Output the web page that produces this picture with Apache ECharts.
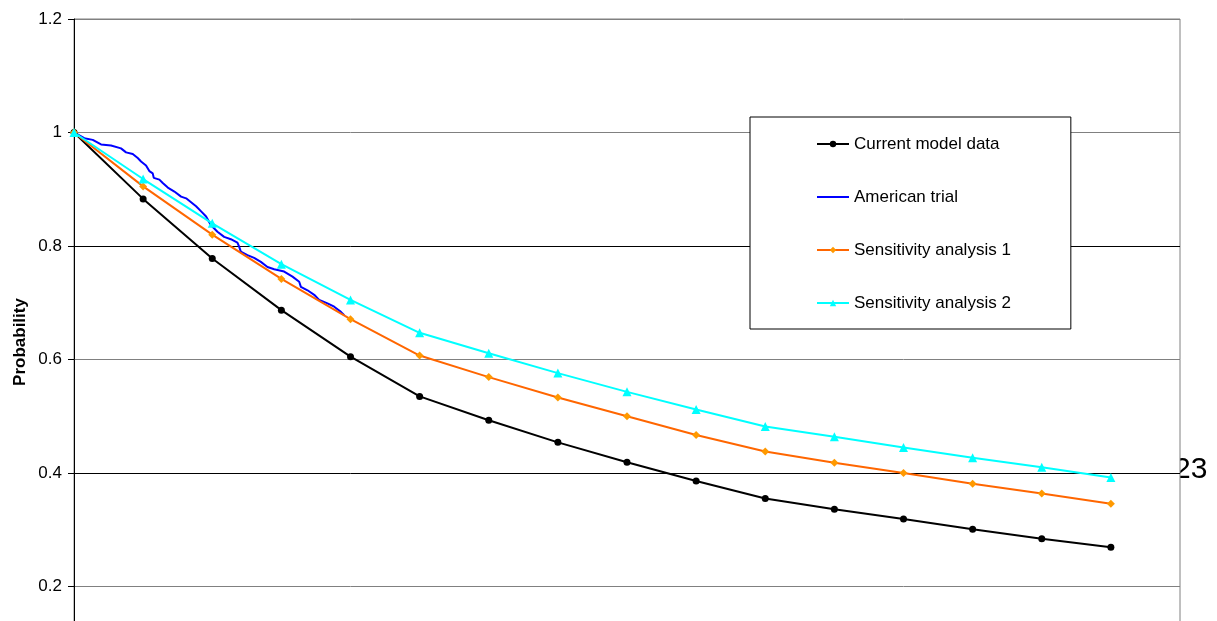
<!DOCTYPE html>
<html>
<head>
<meta charset="utf-8">
<script src="https://cdn.jsdelivr.net/npm/echarts@6/dist/echarts.min.js"></script>
<style>
html,body{margin:0;padding:0;background:#fff;overflow:hidden;width:1217px;height:621px;}
#chart{width:1217px;height:720px;}
</style>
</head>
<body>
<div id="chart"></div>
<script>
// ---- data ----
var years = [0,1,2,3,4,5,6,7,8,9,10,11,12,13,14,15];
var currentModel = [1.000,0.883,0.778,0.687,0.605,0.535,0.493,0.454,0.419,0.386,0.355,0.336,0.319,0.301,0.284,0.269];
var sensitivity1 = [1.000,0.905,0.820,0.742,0.671,0.607,0.569,0.533,0.500,0.467,0.438,0.418,0.400,0.381,0.364,0.346];
var sensitivity2 = [1.000,0.918,0.840,0.768,0.705,0.647,0.611,0.576,0.543,0.512,0.482,0.464,0.445,0.427,0.410,0.392];
var americanX = [0,0.149,0.271,0.391,0.536,0.680,0.753,0.850,0.922,0.970,1.042,1.090,1.139,1.154,1.235,1.284,1.357,1.452,1.549,1.622,1.694,1.766,1.839,1.911,1.979,2.075,2.172,2.269,2.364,2.389,2.413,2.509,2.606,2.703,2.799,2.896,3.040,3.161,3.258,3.282,3.378,3.475,3.547,3.667,3.764,3.861,3.909];
var americanY = [1.000,0.990,0.987,0.979,0.977,0.972,0.965,0.962,0.955,0.949,0.942,0.932,0.928,0.920,0.917,0.911,0.903,0.896,0.887,0.884,0.877,0.870,0.861,0.852,0.837,0.825,0.816,0.812,0.806,0.799,0.790,0.784,0.779,0.772,0.763,0.759,0.755,0.746,0.737,0.728,0.722,0.714,0.705,0.699,0.693,0.684,0.678];
var yTicks = {min: 0, max: 1.2, interval: 0.2};
var seriesNames = ['Current model data','American trial','Sensitivity analysis 1','Sensitivity analysis 2'];
var yAxisTitle = 'Probability';
var pageNumber = '23';

function pairs(xs, ys){ return xs.map(function(x,i){ return [x, ys[i]]; }); }

var FONT = '"Liberation Sans", Arial, sans-serif';
var chart = echarts.init(document.getElementById('chart'), null, {renderer:'canvas', width:1217, height:720});
chart.setOption({
  animation: false,
  backgroundColor: '#fff',
  graphic: [
    {type:'text', z:-5, left: 1174, top: 455,
     style:{text: pageNumber, font: '30px ' + FONT, fill:'#000'}},
    {type:'text', x: 20, y: 342, rotation: Math.PI/2,
     style:{text: yAxisTitle, font: 'bold 17px ' + FONT, fill:'#000', align:'center', verticalAlign:'middle'}}
  ],
  grid: {left: 74, right: 37, top: 19, bottom: 20, show: true, backgroundColor:'#fff', borderColor:'#808080', borderWidth:1, z:0},
  legend: {
    orient: 'vertical', left: 750, top: 117,
    padding: [17, 60, 16, 66],
    backgroundColor: '#fff', borderColor: '#000', borderWidth: 1,
    itemWidth: 32, itemHeight: 8, itemGap: 33,
    textStyle: {fontFamily: FONT, fontSize: 17, color:'#000', lineHeight: 20},
    data: [
      {name: seriesNames[0]},
      {name: seriesNames[1], icon: 'path://M0,0L32,0L32,2L0,2Z'},
      {name: seriesNames[2]},
      {name: seriesNames[3]}
    ]
  },
  xAxis: {type:'value', min:0, max:16, show:false},
  yAxis: {
    type:'value', min: yTicks.min, max: yTicks.max, interval: yTicks.interval,
    axisLine:{show:true, lineStyle:{color:'#000', width:1}},
    axisTick:{show:true, length:6, lineStyle:{color:'#000'}},
    axisLabel:{margin:12, color:'#000', fontFamily: FONT, fontSize:17},
    splitLine:{show:true, lineStyle:{color:['#000','#808080','#000','#808080','#000','#808080','#808080'], width:1}}
  },
  series: [
    {name: seriesNames[0], type:'line', data: pairs(years, currentModel),
     symbol:'circle', symbolSize:7, lineStyle:{color:'#000', width:2}, itemStyle:{color:'#000'}},
    {name: seriesNames[1], type:'line', data: pairs(americanX, americanY),
     symbol:'none', lineStyle:{color:'#0000FF', width:2}, itemStyle:{color:'#0000FF'}},
    {name: seriesNames[2], type:'line', data: pairs(years, sensitivity1),
     symbol:'diamond', symbolSize:8, lineStyle:{color:'#FF6600', width:2}, itemStyle:{color:'#FF9900'}},
    {name: seriesNames[3], type:'line', data: pairs(years, sensitivity2),
     symbol:'triangle', symbolSize:9, lineStyle:{color:'#00FFFF', width:2}, itemStyle:{color:'#00FFFF'}}
  ]
});
</script>
</body>
</html>
